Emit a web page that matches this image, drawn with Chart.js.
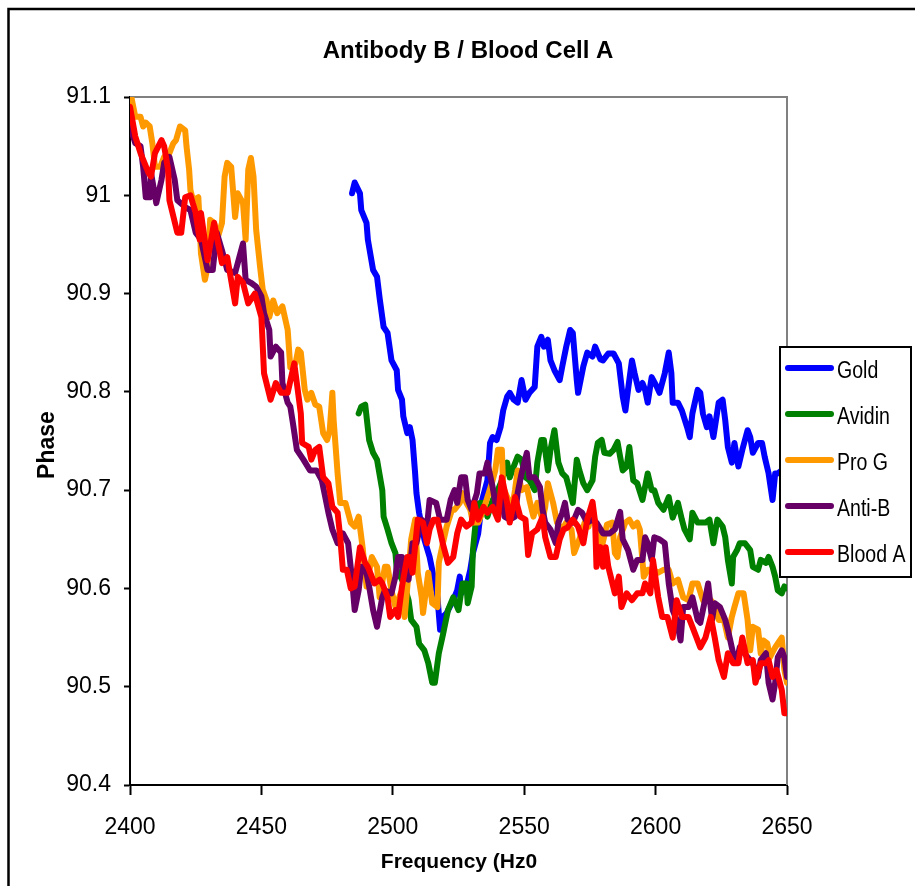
<!DOCTYPE html>
<html><head><meta charset="utf-8">
<script src="https://cdn.jsdelivr.net/npm/chart.js@4.4.1/dist/chart.umd.min.js"></script>
<style>html,body{margin:0;padding:0;background:#fff;overflow:hidden}canvas{display:block}</style>
</head><body>
<canvas id="c" width="915" height="886" style="width:915px;height:886px"></canvas>
<script>
const chartTitle = 'Antibody B / Blood Cell A';
const xTitle = 'Frequency (Hz0';
const yTitle = 'Phase';
const xTicks = [2400, 2450, 2500, 2550, 2600, 2650];
const yTicks = [90.4, 90.5, 90.6, 90.7, 90.8, 90.9, 91.0, 91.1];
const seriesNames = ['Gold', 'Avidin', 'Pro G', 'Anti-B', 'Blood A'];
const seriesColors = ['#0000FF', '#008000', '#FF9900', '#660066', '#FF0000'];

const goldFreq = [2484.5,2485.5,2487.5,2488,2490,2490.5,2492.5,2494,2495,2496.5,2498,2499.5,2501.5,2502,2503.5,2504,2505.5,2506.5,2507.5,2508.5,2509,2510,2512,2514,2515,2516,2517,2518,2519,2520.5,2523,2524.5,2525.5,2526,2528,2529.5,2530.5,2532.5,2534,2536,2537,2538,2539.5,2541,2542,2543.5,2544.5,2546,2547.5,2549,2550.5,2552,2554,2555,2556.5,2557.5,2559,2560,2561.5,2563.5,2564.5,2566,2567.5,2568.5,2570,2570.5,2572.5,2574,2576,2577,2579,2580,2582,2584,2586,2587.5,2588.5,2589.5,2591,2592,2593.5,2595,2596,2597,2598.5,2600.5,2601.5,2603.5,2605,2606,2606.5,2608.5,2610,2612,2613,2614,2616,2617,2618,2619.5,2620.5,2622,2624,2625.5,2626.5,2627.5,2629,2630,2631.5,2633,2635,2636,2637,2639,2640.5,2641.5,2643,2644.5,2645.5,2646.5,2648,2650];
const goldPhase = [91.002,91.013,91.002,90.985,90.972,90.955,90.924,90.917,90.895,90.866,90.86,90.832,90.822,90.802,90.792,90.775,90.758,90.764,90.751,90.717,90.697,90.677,90.65,90.632,90.619,90.605,90.591,90.558,90.571,90.575,90.588,90.598,90.612,90.595,90.602,90.619,90.636,90.656,90.69,90.71,90.748,90.754,90.751,90.764,90.781,90.795,90.799,90.792,90.789,90.812,90.792,90.799,90.805,90.846,90.856,90.846,90.853,90.832,90.822,90.812,90.826,90.846,90.863,90.86,90.812,90.799,90.826,90.84,90.836,90.846,90.833,90.832,90.839,90.839,90.829,90.795,90.781,90.802,90.832,90.819,90.802,90.809,90.802,90.789,90.815,90.805,90.799,90.819,90.84,90.819,90.789,90.789,90.781,90.764,90.754,90.778,90.802,90.799,90.778,90.764,90.775,90.754,90.789,90.792,90.771,90.744,90.728,90.748,90.724,90.741,90.761,90.754,90.738,90.748,90.748,90.734,90.717,90.69,90.717,90.717,90.72,90.72];

const avidinFreq = [2487,2488,2489.5,2490,2491,2492.5,2494,2496,2496.5,2498,2499.5,2501,2501.5,2503.5,2504.5,2506,2507,2509,2510,2512,2513.5,2515,2516,2517.5,2519,2521,2523,2525,2526.5,2528,2528.5,2530,2530.5,2532,2533,2535,2536,2538,2539.5,2541.5,2543.5,2544.5,2546,2547.5,2549,2550.5,2552,2554,2555,2556.5,2557.5,2559,2560,2561.5,2563,2564.5,2566,2567,2568.5,2570,2571,2572.5,2574,2576,2577,2578,2579.5,2580.5,2582.5,2584,2585.5,2586.5,2587.5,2589,2590,2591.5,2593,2595,2597,2598.5,2599.5,2601,2603,2605,2606.5,2608.5,2610,2611,2613,2614,2616,2619,2620.5,2622,2623.5,2625.5,2626.5,2627.5,2629,2629.5,2631,2632,2634,2636,2637,2639,2640,2642,2643,2644.5,2645.5,2646.5,2648,2649,2650];
const avidinPhase = [90.778,90.785,90.787,90.775,90.751,90.738,90.731,90.70,90.673,90.66,90.646,90.636,90.619,90.609,90.602,90.588,90.568,90.561,90.544,90.537,90.524,90.504,90.504,90.534,90.552,90.578,90.591,90.578,90.605,90.605,90.585,90.602,90.639,90.68,90.687,90.687,90.673,90.69,90.697,90.71,90.728,90.713,90.724,90.734,90.731,90.713,90.71,90.70,90.728,90.751,90.751,90.72,90.741,90.761,90.728,90.717,90.713,90.703,90.687,90.731,90.72,90.707,90.70,90.71,90.734,90.748,90.751,90.738,90.737,90.741,90.749,90.734,90.72,90.724,90.744,90.71,90.707,90.69,90.717,90.70,90.70,90.687,90.68,90.693,90.672,90.687,90.67,90.66,90.65,90.677,90.667,90.667,90.67,90.646,90.67,90.663,90.652,90.629,90.605,90.632,90.639,90.646,90.646,90.639,90.622,90.619,90.629,90.626,90.632,90.622,90.612,90.598,90.595,90.602,90.60];

const proGFreq = [2400.5,2402,2404,2405,2406,2407.5,2408.5,2409.5,2411.5,2413,2415,2416.5,2417.5,2419,2421,2421.5,2422.5,2423,2424,2426,2426.5,2427,2428.5,2429.5,2430.5,2432,2433.5,2435,2436,2437,2438.5,2440,2441,2443,2444,2445,2446,2447,2448,2449.5,2450.5,2452,2453,2454.5,2456,2458,2460,2461,2463,2464,2465,2466.5,2467.5,2469,2470.5,2472,2473.5,2475,2476,2477,2477.5,2479,2480,2482,2484,2485.5,2487,2488.5,2490,2492,2494,2495,2497,2498,2499.5,2501,2503,2504.5,2506,2507,2508.5,2509.5,2511,2511.5,2513.5,2515,2517,2517.5,2519,2520.5,2522.5,2523.5,2525.5,2526.5,2528,2529.5,2530.5,2532.5,2534.5,2536,2538,2539,2540,2541.5,2542,2543.5,2545.5,2546.5,2547.5,2549,2551,2552,2553.5,2555,2557,2558,2559,2561,2562.5,2564.5,2566,2568,2569,2571,2573,2574.5,2576,2577.5,2579.5,2581.5,2583.5,2584.5,2585.5,2586.5,2588.5,2590,2591.5,2593,2594,2595.5,2597,2599,2601,2603,2605,2606.5,2608.5,2610.5,2612.5,2614,2616,2618,2620,2622,2624,2626,2627.5,2629,2630,2631.5,2633.5,2635,2636,2637,2639,2640,2641,2642.5,2643.5,2645.5,2646.5,2648,2649,2650];
const proGPhase = [91.1,91.08,91.08,91.07,91.074,91.07,91.053,91.029,91.029,91.039,91.043,91.053,91.056,91.07,91.066,91.05,91.026,91.005,90.995,90.998,90.972,90.941,90.914,90.927,90.975,90.972,90.958,90.972,91.019,91.033,91.029,90.978,91.002,90.992,90.955,91.026,91.038,91.019,90.965,90.927,90.904,90.893,90.876,90.893,90.88,90.887,90.863,90.825,90.829,90.843,90.84,90.802,90.792,90.799,90.787,90.785,90.758,90.751,90.761,90.799,90.771,90.717,90.687,90.687,90.667,90.663,90.673,90.642,90.602,90.632,90.622,90.591,90.622,90.622,90.598,90.581,90.595,90.571,90.616,90.65,90.67,90.616,90.591,90.575,90.616,90.585,90.581,90.626,90.645,90.663,90.68,90.68,90.687,90.697,90.687,90.68,90.667,90.667,90.68,90.693,90.71,90.72,90.741,90.741,90.703,90.693,90.683,90.70,90.72,90.70,90.703,90.69,90.673,90.687,90.67,90.683,90.707,90.687,90.667,90.66,90.667,90.66,90.636,90.65,90.667,90.663,90.68,90.66,90.642,90.665,90.667,90.636,90.632,90.652,90.667,90.67,90.663,90.667,90.66,90.612,90.619,90.619,90.616,90.619,90.619,90.605,90.609,90.591,90.588,90.605,90.605,90.588,90.591,90.585,90.568,90.568,90.55,90.571,90.581,90.595,90.595,90.568,90.537,90.561,90.558,90.534,90.547,90.544,90.53,90.54,90.544,90.55,90.517,90.504];

const antiBFreq = [2400,2402,2404,2405,2406,2407.5,2408,2410,2412,2413,2415,2417,2418,2421,2423,2425,2427,2429.5,2431.5,2433,2435,2437,2440,2442,2443,2444,2446,2448,2450,2451,2453,2453.5,2455.5,2457.5,2458,2460,2461,2462,2463.5,2466,2468.5,2471,2473,2474,2475.5,2477,2479,2481,2483,2484.5,2485.5,2487,2488,2489.5,2491,2492.5,2494,2496,2497,2499.5,2501,2502,2503.5,2504,2506,2507.5,2509,2511,2513,2514,2516.5,2518,2520.5,2522,2523.5,2524.5,2526,2527.5,2528.5,2530,2532,2533,2535,2536,2538,2539.5,2541.5,2542.5,2544.5,2546.5,2547.5,2549,2551,2552,2554,2556,2557,2558,2560,2562,2563,2564.5,2565.5,2566.5,2568.5,2570.5,2572,2574,2576,2577.5,2580,2582.5,2584.5,2586.5,2587.5,2589.5,2591.5,2593,2595,2596,2597,2598.5,2599.5,2601.5,2603.5,2605,2606.5,2608,2609.5,2610.5,2612.5,2614,2616,2617,2619,2620,2621.5,2622.5,2624.5,2626.5,2627.5,2629.5,2631,2632,2635,2637,2639,2640,2642,2643,2644.5,2645.5,2646.5,2648,2649,2650];
const antiBPhase = [91.07,91.053,91.05,91.029,90.998,90.998,91.023,90.992,91.016,91.033,91.039,91.016,90.995,90.988,90.985,90.962,90.955,90.924,90.924,90.962,90.944,90.924,90.921,90.941,90.951,90.914,90.911,90.907,90.897,90.88,90.863,90.836,90.846,90.84,90.809,90.789,90.785,90.768,90.741,90.731,90.72,90.72,90.71,90.697,90.677,90.66,90.646,90.656,90.646,90.609,90.578,90.598,90.622,90.622,90.602,90.578,90.561,90.591,90.598,90.595,90.612,90.632,90.632,90.612,90.609,90.646,90.646,90.67,90.663,90.69,90.687,90.67,90.67,90.69,90.70,90.687,90.713,90.713,90.69,90.68,90.697,90.717,90.717,90.728,90.703,90.68,90.693,90.673,90.67,90.673,90.697,90.717,90.738,90.713,90.713,90.703,90.68,90.667,90.66,90.646,90.667,90.677,90.687,90.67,90.667,90.68,90.677,90.667,90.67,90.667,90.656,90.656,90.66,90.678,90.65,90.639,90.619,90.629,90.629,90.652,90.646,90.629,90.652,90.65,90.646,90.605,90.578,90.568,90.547,90.581,90.581,90.591,90.568,90.565,90.591,90.605,90.568,90.585,90.581,90.568,90.558,90.534,90.527,90.54,90.53,90.524,90.51,90.527,90.534,90.504,90.487,90.504,90.53,90.537,90.53,90.51];

const bloodAFreq = [2400,2402,2404,2407,2408,2409.5,2412,2413,2414.5,2415,2418,2419.5,2421,2423,2425,2426.5,2427,2429.5,2432,2435,2437,2440,2441,2443,2445,2447.5,2450,2451,2453.5,2455.5,2457.5,2460,2462.5,2465,2465.5,2468,2469,2470.5,2472,2473.5,2475.5,2477,2479,2480,2481,2482.5,2484,2485.5,2487.5,2489.5,2490.5,2492,2493,2495,2496,2498,2499,2501,2502,2503.5,2505.5,2506.5,2507.5,2509.5,2511.5,2513,2514,2515.5,2517,2519,2521,2523,2524.5,2526,2528,2530,2531,2532.5,2534.5,2536,2538,2540,2541.5,2543.5,2544.5,2546.5,2548.5,2550.5,2551.5,2553,2555,2557,2558,2560,2562,2563.5,2565,2566.5,2568.5,2570.5,2572.5,2574,2576,2577,2577.5,2579,2580,2581,2582,2584.5,2586,2587,2589,2591,2593,2595,2596,2598,2599,2601,2602.5,2604.5,2606.5,2608,2610,2612.5,2614,2617,2619,2621,2622.5,2624,2626,2627.5,2629.5,2631.5,2633,2635,2637,2638,2640,2642,2643,2644.5,2646,2648,2649,2650];
const bloodAPhase = [91.09,91.06,91.043,91.023,91.019,91.043,91.056,91.05,91.026,90.995,90.962,90.962,90.998,91.0,90.982,90.955,90.982,90.934,90.972,90.931,90.937,90.89,90.917,90.911,90.89,90.90,90.876,90.819,90.792,90.809,90.799,90.799,90.829,90.778,90.748,90.744,90.731,90.741,90.744,90.713,90.707,90.683,90.677,90.652,90.619,90.619,90.60,90.602,90.642,90.626,90.622,90.612,90.605,90.609,90.605,90.591,90.571,90.578,90.571,90.602,90.632,90.632,90.616,90.67,90.667,90.646,90.66,90.67,90.67,90.646,90.626,90.632,90.656,90.67,90.663,90.667,90.687,90.67,90.683,90.677,90.683,90.67,90.713,90.687,90.667,90.693,90.673,90.67,90.634,90.656,90.66,90.673,90.652,90.632,90.632,90.65,90.66,90.662,90.67,90.663,90.646,90.67,90.688,90.667,90.622,90.642,90.622,90.642,90.622,90.595,90.612,90.581,90.595,90.588,90.595,90.595,90.605,90.595,90.629,90.591,90.571,90.571,90.55,90.588,90.571,90.571,90.561,90.54,90.55,90.571,90.55,90.527,90.51,90.534,90.524,90.524,90.55,90.524,90.527,90.504,90.524,90.524,90.527,90.51,90.517,90.497,90.473,90.473];

const freqs = [goldFreq, avidinFreq, proGFreq, antiBFreq, bloodAFreq];
const phases = [goldPhase, avidinPhase, proGPhase, antiBPhase, bloodAPhase];

const FONT = "'Liberation Sans', Arial, Helvetica, sans-serif";
Chart.defaults.font.family = FONT;
Chart.defaults.color = '#000';

const datasets = seriesNames.map((name, i) => ({
  label: name,
  data: freqs[i].map((f, j) => ({ x: f, y: phases[i][j] })),
  borderColor: seriesColors[i],
  backgroundColor: seriesColors[i],
  borderWidth: 6,
  pointRadius: 0,
  tension: 0,
  fill: false,
  borderJoinStyle: 'round',
  borderCapStyle: 'round',
  order: seriesNames.length - i
}));

const decor = {
  id: 'decor',
  beforeDraw(chart) {
    const ctx = chart.ctx;
    ctx.save();
    ctx.fillStyle = '#fff';
    ctx.fillRect(0, 0, chart.width, chart.height);
    ctx.strokeStyle = '#000';
    ctx.lineWidth = 2.5;
    ctx.strokeRect(8.5, 9, 1000, 1000);
    ctx.restore();
  },
  beforeDatasetsDraw(chart) {
    const ctx = chart.ctx, a = chart.chartArea;
    ctx.save();
    ctx.strokeStyle = '#808080';
    ctx.lineWidth = 2;
    ctx.beginPath();
    ctx.moveTo(a.left, a.top);
    ctx.lineTo(a.right, a.top);
    ctx.lineTo(a.right, a.bottom);
    ctx.stroke();
    ctx.restore();
  },
  afterDraw(chart) {
    const ctx = chart.ctx;
    ctx.save();
    ctx.fillStyle = '#000';
    ctx.font = 'bold 24px ' + FONT;
    ctx.textAlign = 'center';
    ctx.textBaseline = 'alphabetic';
    ctx.fillText(chartTitle, 468, 58);
    ctx.font = 'bold 21px ' + FONT;
    ctx.fillText(xTitle, 459, 868);
    ctx.save();
    ctx.translate(54, 445);
    ctx.rotate(-Math.PI / 2);
    ctx.font = 'bold 23px ' + FONT;
    ctx.fillText(yTitle, 0, 0);
    ctx.restore();
    const lx = 780, ly = 347, lw = 131, lh = 230;
    ctx.fillStyle = '#fff';
    ctx.fillRect(lx, ly, lw, lh);
    ctx.strokeStyle = '#000';
    ctx.lineWidth = 2;
    ctx.strokeRect(lx, ly, lw, lh);
    chart.data.datasets.forEach((ds, i) => {
      const y = 368 + i * 46;
      ctx.strokeStyle = ds.borderColor;
      ctx.lineWidth = 6;
      ctx.lineCap = 'round';
      ctx.beginPath();
      ctx.moveTo(788, y);
      ctx.lineTo(831, y);
      ctx.stroke();
      ctx.save();
      ctx.translate(837, y + 4);
      ctx.scale(0.85, 1);
      ctx.fillStyle = '#000';
      ctx.font = '23px ' + FONT;
      ctx.textAlign = 'left';
      ctx.textBaseline = 'middle';
      ctx.fillText(ds.label, 0, 0);
      ctx.restore();
    });
    ctx.restore();
  }
};

new Chart(document.getElementById('c'), {
  type: 'line',
  data: { datasets },
  options: {
    responsive: false,
    animation: false,
    devicePixelRatio: 1,
    layout: { padding: { top: 97, right: 128, left: 0, bottom: 0 } },
    plugins: { legend: { display: false }, title: { display: false }, tooltip: { enabled: false } },
    scales: {
      x: {
        type: 'linear', min: 2400, max: 2650,
        afterBuildTicks: s => { s.ticks = xTicks.map(v => ({ value: v })); },
        afterFit: s => { s.height = 101; },
        ticks: { font: { size: 23 }, color: '#000', padding: 19, maxRotation: 0, autoSkip: false,
          callback: v => String(v) },
        grid: { drawOnChartArea: false, drawTicks: true, tickLength: 10, tickColor: '#000', tickWidth: 2 },
        border: { color: '#000', width: 2 }
      },
      y: {
        type: 'linear', min: 90.4, max: 91.1,
        afterBuildTicks: s => { s.ticks = yTicks.map(v => ({ value: v })); },
        afterFit: s => { s.width = 130; },
        ticks: { font: { size: 23 }, color: '#000', padding: 13, autoSkip: false,
          callback: v => String(Math.round(v * 10) / 10) },
        grid: { drawOnChartArea: false, drawTicks: true, tickLength: 6, tickColor: '#000', tickWidth: 2 },
        border: { color: '#000', width: 2 }
      }
    }
  },
  plugins: [decor]
});
</script>
</body></html>
